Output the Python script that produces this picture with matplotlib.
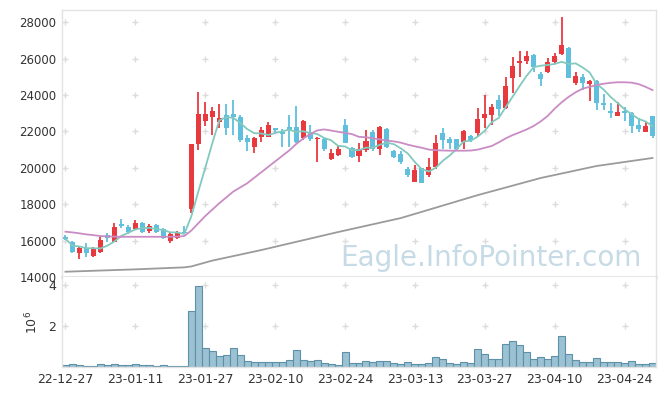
import numpy as np
import pandas as pd
import matplotlib
matplotlib.use('Agg')
import matplotlib.pyplot as plt

# tick labels (trading-day index positions)
tick_labels = ['22-12-27', '23-01-11', '23-01-27', '23-02-10', '23-02-24',
               '23-03-13', '23-03-27', '23-04-10', '23-04-24']
tick_pos = [0, 10, 20, 30, 40, 50, 60, 70, 80]

opens = [16200, 15900, 15300, 15580, 15150, 15400, 16300, 15940, 16900, 16730,
         16650, 16950, 16530, 16840, 16620, 16000, 16160, 16500, 17740, 21290,
         22580, 22770, 22530, 22900, 22930, 22810, 21620, 21160, 21710, 21710,
         22170, 21950, 22250, 22220, 21620, 21980, 21560, 21560, 20480, 20700,
         22350, 21070, 20660, 20980, 21940, 21010, 22130, 20940, 20760, 19930,
         19240, 19970, 19600, 20060, 21930, 21580, 21580, 21430, 21750, 21930,
         22710, 22900, 23730, 23270, 24910, 25770, 25890, 26200, 25150, 25240,
         25790, 26240, 26560, 24670, 24980, 24600, 24770, 23580, 23140, 22870,
         23140, 23000, 22350, 21980, 22850]
highs = [16300, 16000, 15660, 15880, 15660, 16200, 16400, 16950, 17170, 16850,
         17140, 17000, 16900, 16900, 16700, 16500, 16550, 16800, 21300, 24150,
         23600, 23360, 23520, 23520, 23730, 22900, 21800, 21710, 22250, 22530,
         22200, 22110, 22900, 23400, 22600, 22350, 21700, 21650, 21030, 21200,
         22660, 21150, 21350, 22080, 22080, 22300, 22200, 21000, 20900, 20020,
         20150, 20000, 20520, 21800, 22170, 21670, 21600, 22080, 21800, 23270,
         24000, 23490, 24000, 25000, 26110, 26420, 26420, 26250, 25280, 26010,
         26300, 28300, 26650, 25280, 25140, 24820, 24820, 24080, 23550, 23630,
         23360, 23040, 22710, 22530, 22850]
lows = [16050, 15300, 14980, 15080, 15080, 15340, 15950, 15900, 16680, 16350,
        16600, 16400, 16400, 16400, 16100, 15870, 16100, 16400, 17500, 20980,
        22310, 21800, 22170, 21800, 21800, 21400, 20920, 20830, 21440, 21680,
        21900, 21120, 21160, 21350, 21550, 21480, 20300, 20920, 20430, 20650,
        21340, 20560, 20300, 20880, 20950, 20700, 21100, 20560, 20190, 19480,
        19240, 19150, 19500, 19950, 21010, 21010, 20980, 21010, 21400, 21720,
        22170, 22350, 22850, 23250, 24130, 25000, 25690, 25240, 24510, 25200,
        25690, 26200, 24950, 24550, 24280, 23690, 23180, 23150, 22710, 22850,
        22580, 21900, 21940, 21940, 21620]
closes = [16100, 15350, 15580, 15300, 15580, 16030, 16130, 16730, 16820, 16450,
          16950, 16490, 16800, 16490, 16150, 16350, 16430, 16420, 21290, 22930,
          22930, 23120, 22750, 22170, 22770, 21530, 21430, 21620, 22080, 22350,
          22080, 21880, 22100, 21430, 22570, 21560, 21650, 21010, 20790, 21030,
          21380, 20620, 21030, 21470, 21010, 22220, 21160, 20620, 20300, 19600,
          19880, 19180, 20030, 21340, 21520, 21340, 21010, 22040, 21530, 22680,
          22930, 23360, 23220, 24490, 25590, 25870, 26150, 25560, 24880, 25790,
          26150, 26750, 24960, 25040, 24670, 24770, 23580, 23450, 23000, 23040,
          23000, 22270, 22130, 22300, 21750]
# volume in millions of shares
volumes = [0.08, 0.13, 0.08, 0.03, 0.03, 0.13, 0.08, 0.13, 0.08, 0.08,
           0.13, 0.08, 0.08, 0.03, 0.08, 0.03, 0.03, 0.03, 2.72, 3.95,
           0.91, 0.77, 0.53, 0.57, 0.91, 0.57, 0.28, 0.23, 0.23, 0.23,
           0.23, 0.23, 0.33, 0.82, 0.34, 0.29, 0.34, 0.19, 0.13, 0.08,
           0.73, 0.18, 0.18, 0.29, 0.23, 0.29, 0.29, 0.18, 0.13, 0.23,
           0.13, 0.13, 0.18, 0.47, 0.37, 0.18, 0.13, 0.23, 0.18, 0.86,
           0.62, 0.37, 0.37, 1.11, 1.25, 1.06, 0.72, 0.37, 0.47, 0.37,
           0.52, 1.50, 0.62, 0.33, 0.23, 0.23, 0.42, 0.23, 0.23, 0.23,
           0.18, 0.28, 0.13, 0.13, 0.18]
# 20-day average as drawn on the chart
ma20 = [16490, 16450, 16400, 16340, 16300, 16250, 16230, 16220, 16210, 16210,
        16210, 16210, 16210, 16210, 16210, 16210, 16220, 16250, 16550, 16950,
        17350, 17700, 18050, 18370, 18690, 18920, 19150, 19450, 19750, 20050,
        20350, 20650, 20950, 21300, 21600, 21850, 22050, 22110, 22050, 21980,
        21920, 21850, 21700, 21680, 21620, 21560, 21500, 21450, 21380, 21270,
        21180, 21100, 21000, 20970, 20950, 20940, 20940, 20940, 20950, 21000,
        21100, 21200, 21400, 21620, 21800, 21950, 22110, 22300, 22550, 22850,
        23250, 23600, 23900, 24150, 24350, 24450, 24550, 24620, 24670, 24700,
        24700, 24680, 24600, 24450, 24270]
# 60-day average, read at a few bars
ma60_x = [0, 10, 17, 18, 21, 28, 39, 48, 59, 68, 76, 84]
ma60_val = [14290, 14420, 14530, 14580, 14900, 15480, 16470, 17240, 18500,
            19440, 20100, 20540]

x = np.arange(len(closes))
o = np.array(opens)
c = np.array(closes)
up = c >= o
red = '#e8393f'
blue = '#5fbfdc'
colors = np.where(up, red, blue)
ma5 = pd.Series(closes).rolling(5, min_periods=1).mean()

fig = plt.figure(figsize=(6.65, 3.96), dpi=100)
ax = fig.add_axes([0.0932, 0.3005, 0.8933, 0.6742])
axv = fig.add_axes([0.0932, 0.0732, 0.8933, 0.2273], sharex=ax)

# grid crosses
yt = [16000, 18000, 20000, 22000, 24000, 26000, 28000]
gx, gy = np.meshgrid(tick_pos, yt)
ax.plot(gx.ravel(), gy.ravel(), '+', color='#dcdcdc', ms=5, mew=1, zorder=0)
gx2, gy2 = np.meshgrid(tick_pos, [2, 4])
axv.plot(gx2.ravel(), gy2.ravel(), '+', color='#dcdcdc', ms=5, mew=1, zorder=0)

ax.text(0.976, 0.072, 'Eagle.InfoPointer.com', transform=ax.transAxes,
        ha='right', va='center', fontsize=20, color='#c6dbe5', zorder=1)

# candles
ax.vlines(x, lows, highs, color=colors, lw=1.3, zorder=2)
ax.bar(x, np.maximum(np.abs(c - o), 50), bottom=np.minimum(o, c),
       width=0.72, color=colors, zorder=3)

ax.plot(x, ma5, color='#82c9bf', lw=1.3, zorder=4)
ax.plot(x, ma20, color='#c98cc4', lw=1.3, zorder=4)
ax.plot(ma60_x, ma60_val, color='#9b9b9b', lw=1.3, zorder=4)

ax.set_xlim(-0.5, len(x) - 0.5)
ax.set_ylim(14000, 28670)
ax.set_yticks([14000] + yt)
ax.tick_params(length=0, labelsize=8.5, labelcolor='#333333', pad=4,
               labelbottom=False)

axv.bar(x, volumes, width=1.0, color='#9bc1d2', edgecolor='#5d91aa', lw=0.8)
axv.set_ylim(0, 4.39)
axv.set_yticks([2, 4])
axv.set_yticklabels(['2', '4'])
axv.set_xticks(tick_pos)
axv.set_xticklabels(tick_labels)
axv.set_ylabel(r'$10^6$', fontsize=9, color='#333333', labelpad=6)
axv.tick_params(length=0, labelsize=9, labelcolor='#333333', pad=4)

for a in (ax, axv):
    for s in a.spines.values():
        s.set_color('#e2e2e2')
        s.set_linewidth(1)
ax.spines['bottom'].set_linewidth(2)
axv.spines['top'].set_visible(False)

fig.savefig('out.png', dpi=100)
